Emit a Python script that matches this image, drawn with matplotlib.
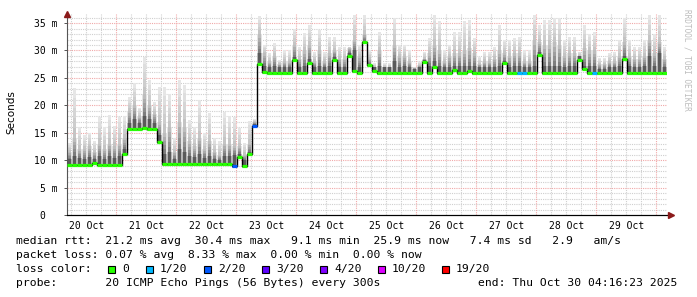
import matplotlib
matplotlib.use("Agg")
import matplotlib.pyplot as plt
from matplotlib.patches import Rectangle
from matplotlib.colors import to_rgb

# ---------------- data (2-hour bins starting Mon 20 Oct 04:16) ----------------
start_hour = 4 + 16.38 / 60.0   # hours since 20 Oct 00:00
bin_hours = 2.0

median_ms = [9.2, 9.2, 9.2, 9.2, 9.2, 9.5, 9.2, 9.2, 9.2, 9.2,
             9.2, 11.1, 15.6, 15.6, 15.7, 15.8, 15.7, 15.6, 13.3, 9.3,
             9.3, 9.3, 9.3, 9.3, 9.3, 9.3, 9.3, 9.3, 9.3, 9.3,
             9.3, 9.3, 9.3, 9.0, 10.6, 9.0, 11.2, 16.2, 27.6, 26.0,
             25.9, 25.9, 25.9, 25.9, 25.9, 28.3, 25.9, 25.9, 27.7, 25.9,
             25.9, 25.9, 25.9, 28.3, 25.9, 25.9, 29.0, 26.2, 25.9, 31.6,
             27.4, 26.3, 25.9, 25.9, 25.9, 25.9, 25.9, 25.9, 25.9, 25.9,
             25.9, 27.9, 25.9, 26.9, 25.9, 25.9, 25.9, 26.5, 25.9, 25.9,
             26.3, 25.9, 25.9, 25.9, 25.9, 25.9, 25.9, 27.7, 25.9, 25.9,
             25.9, 25.9, 25.9, 25.9, 29.2, 25.9, 25.9, 25.9, 25.9, 25.9,
             25.9, 25.9, 28.3, 26.7, 25.9, 25.9, 25.9, 25.9, 25.9, 25.9,
             25.9, 28.5, 25.9, 25.9, 25.9, 25.9, 25.9, 25.9, 25.9, 25.9]

loss_of_20 = [0] * 33 + [2, 0, 0, 0, 2] + [0] * 52 + [1, 1] + [0] * 13 + [1] + [0] * 14

smoke_max = [13.1, 23.1, 16.1, 14.5, 15.0, 13.5, 17.9, 16.0, 18.3, 16.2,
             17.9, 18.0, 21.5, 24.0, 19.6, 28.9, 24.6, 20.6, 23.4, 23.4,
             22.0, 14.0, 24.6, 23.7, 17.3, 16.0, 21.0, 15.0, 18.6, 14.0,
             13.5, 18.8, 18.0, 17.8, 15.9, 13.2, 17.2, 17.5, 36.3, 31.0,
             29.5, 31.3, 28.3, 30.0, 30.0, 34.0, 30.7, 33.1, 34.6, 29.8,
             33.7, 29.8, 32.5, 32.5, 30.7, 30.7, 30.7, 36.5, 31.0, 36.5,
             30.0, 27.7, 33.4, 27.7, 27.7, 35.9, 31.0, 31.0, 30.0, 27.0,
             27.9, 29.8, 32.2, 36.5, 35.4, 30.0, 31.0, 33.3, 33.3, 35.4,
             35.5, 32.2, 28.8, 29.8, 29.8, 30.7, 34.6, 32.0, 32.0, 32.2,
             32.5, 30.0, 30.0, 36.5, 34.6, 35.5, 35.5, 35.9, 35.9, 32.0,
             32.5, 32.5, 29.8, 34.6, 33.0, 33.4, 28.6, 28.6, 29.5, 29.8,
             32.0, 35.9, 32.0, 30.7, 30.7, 32.0, 36.5, 33.0, 36.5, 30.7]

smoke_upper = [11.5, 14.0, 12.0, 12.0, 12.5, 11.5, 13.0, 12.0, 13.0, 12.5,
               13.0, 14.0, 19.0, 20.0, 18.0, 22.0, 20.0, 18.5, 17.0, 15.0,
               16.0, 11.5, 17.0, 16.0, 13.5, 12.5, 14.0, 12.0, 13.5, 11.5,
               11.0, 13.0, 13.0, 12.5, 12.5, 11.0, 13.0, 17.0, 33.0, 29.5,
               28.0, 29.0, 27.5, 28.0, 28.0, 31.0, 28.5, 30.0, 31.0, 28.0,
               30.0, 28.0, 29.5, 30.0, 28.5, 28.5, 30.5, 32.0, 29.0, 33.0,
               28.5, 27.0, 30.0, 27.0, 27.0, 31.0, 29.0, 29.0, 28.0, 26.8,
               27.3, 28.5, 29.5, 31.0, 30.0, 28.0, 29.0, 29.5, 29.5, 30.0,
               30.5, 29.5, 27.5, 28.0, 28.0, 28.5, 30.0, 29.5, 29.0, 29.5,
               29.5, 28.0, 28.0, 32.0, 31.5, 31.0, 31.0, 31.5, 31.0, 29.0,
               29.5, 29.5, 29.0, 30.5, 30.0, 30.0, 27.5, 27.5, 28.0, 28.0,
               29.0, 31.5, 29.0, 28.5, 28.5, 29.0, 32.0, 29.5, 31.5, 28.5]

smoke_core = [10.2, 10.8, 10.4, 10.3, 10.6, 10.2, 10.8, 10.3, 10.8, 10.4,
              10.8, 12.0, 16.8, 17.5, 16.8, 18.0, 17.5, 16.8, 14.5, 11.2,
              11.5, 10.2, 12.0, 11.5, 10.8, 10.6, 11.2, 10.4, 10.8, 10.2,
              10.1, 10.8, 10.8, 11.0, 11.2, 10.1, 11.5, 16.6, 29.5, 27.2,
              26.9, 27.2, 26.9, 26.9, 26.9, 28.8, 26.9, 27.2, 28.5, 26.9,
              27.2, 26.9, 27.2, 28.8, 26.9, 26.9, 29.5, 30.0, 26.9, 31.8,
              27.5, 26.9, 27.2, 26.9, 26.9, 28.0, 26.9, 27.2, 26.9, 26.6,
              26.9, 28.2, 27.2, 28.0, 27.2, 26.9, 26.9, 27.2, 27.2, 27.2,
              27.2, 27.2, 26.9, 26.9, 26.9, 26.9, 27.2, 28.0, 26.9, 27.2,
              27.2, 26.9, 26.9, 27.2, 29.8, 27.2, 27.2, 27.2, 27.2, 26.9,
              27.2, 27.2, 29.0, 27.2, 27.2, 27.2, 26.6, 26.6, 26.9, 26.9,
              27.2, 29.0, 27.2, 26.9, 26.9, 27.2, 29.0, 27.2, 29.5, 26.9]

day_labels = ["20 Oct", "21 Oct", "22 Oct", "23 Oct", "24 Oct",
              "25 Oct", "26 Oct", "27 Oct", "28 Oct", "29 Oct"]
y_ticks_ms = [0, 5, 10, 15, 20, 25, 30, 35]
y_tick_labels = ["0  ", "5 m", "10 m", "15 m", "20 m", "25 m", "30 m", "35 m"]

loss_colors = {0: "#26ff00", 1: "#00b8ff", 2: "#0059ff", 3: "#5e00ff",
               4: "#7e00ff", 10: "#dd00ff", 19: "#ff0000"}
legend_entries = ["0", "1/20", "2/20", "3/20", "4/20", "10/20", "19/20"]
legend_keys = [0, 1, 2, 3, 4, 10, 19]

# ---------------- figure ----------------
W, H = 697, 297
fig = plt.figure(figsize=(W / 100, H / 100), dpi=100)
fig.patch.set_facecolor("white")
ax = fig.add_axes([67 / W, 82 / H, 600 / W, 201 / H])
ax.set_facecolor("white")

n = len(median_ms)
x_end = start_hour + bin_hours * n
ax.set_xlim(start_hour, x_end)
ax.set_ylim(0, 36.65)

# grid
for hx in range(0, 264, 6):
    if start_hour < hx < x_end:
        if hx % 24 == 0:
            ax.axvline(hx, color="#f0a8a8", lw=0.8, ls=(0, (1, 1)), zorder=0.5)
        else:
            ax.axvline(hx, color="#cfcfcf", lw=0.8, ls=(0, (1, 1)), zorder=0.4)
for yv in range(1, 37):
    if yv % 5 == 0:
        ax.axhline(yv, color="#f0a8a8", lw=0.8, ls=(0, (1, 1)), zorder=0.5)
    else:
        ax.axhline(yv, color="#cfcfcf", lw=0.8, ls=(0, (1, 1)), zorder=0.4)

# smoke
lefts = [start_hour + bin_hours * i for i in range(n)]
bottoms = [m - 0.35 for m in median_ms]
narrow = bin_hours * 0.62
nleft = [l + (bin_hours - narrow) / 2 for l in lefts]


def mix(c1, c2, t):
    a, b = to_rgb(c1), to_rgb(c2)
    return tuple(a[i] + (b[i] - a[i]) * t for i in range(3))


bar_kw = dict(align="edge", lw=0, antialiased=False)
# full-width light haze up to the upper quantile
ax.bar(lefts, [u - b for u, b in zip(smoke_upper, bottoms)], bottom=bottoms,
       width=bin_hours, color="#e3e3e3", zorder=0.9, **bar_kw)
# full-width dense band
ax.bar(lefts, [c - b for c, b in zip(smoke_core, bottoms)], bottom=bottoms,
       width=bin_hours, color="#b4b4b4", zorder=1, **bar_kw)
# narrow spike: gradient upper -> max (light)
steps = 5
for k in range(steps):
    lo = [u + (t - u) * k / steps for u, t in zip(smoke_upper, smoke_max)]
    hi = [u + (t - u) * (k + 1) / steps for u, t in zip(smoke_upper, smoke_max)]
    ax.bar(nleft, [h - l for h, l in zip(hi, lo)], bottom=lo, width=narrow,
           color=mix("#c4c4c4", "#e6e6e6", k / (steps - 1)),
           zorder=1.1, **bar_kw)
# narrow spike: gradient core -> upper (mid)
for k in range(steps):
    lo = [c + (u - c) * k / steps for c, u in zip(smoke_core, smoke_upper)]
    hi = [c + (u - c) * (k + 1) / steps for c, u in zip(smoke_core, smoke_upper)]
    ax.bar(nleft, [h - l for h, l in zip(hi, lo)], bottom=lo, width=narrow,
           color=mix("#7e7e7e", "#bdbdbd", k / (steps - 1)),
           zorder=1.1, **bar_kw)
# narrow spike: dark core
ax.bar(nleft, [c - b for c, b in zip(smoke_core, bottoms)], bottom=bottoms,
       width=narrow, color="#5a5a5a", zorder=1.2, **bar_kw)

# median line
edges = lefts + [x_end]
ax.step(edges, median_ms + [median_ms[-1]], where="post", color="black",
        lw=1.0, zorder=2)
for l, m, ls_ in zip(lefts, median_ms, loss_of_20):
    ax.hlines(m, l, l + bin_hours, color=loss_colors[ls_], lw=2.3, zorder=3)

# axes styling
for s in ["top", "right"]:
    ax.spines[s].set_visible(False)
ax.spines["left"].set_color("#555555")
ax.spines["bottom"].set_color("black")
ax.spines["left"].set_linewidth(0.8)
ax.spines["bottom"].set_linewidth(0.8)
ax.plot([0], [1.0], marker="^", color="#8b1a1a", markersize=4,
        transform=ax.transAxes, clip_on=False, zorder=5)
ax.plot([1.006], [0], marker=">", color="#8b1a1a", markersize=4,
        transform=ax.transAxes, clip_on=False, zorder=5)
ax.plot([0, 1.006], [0, 0], color="black", lw=0.8, transform=ax.transAxes,
        clip_on=False, zorder=4)

mono = "DejaVu Sans Mono"
ax.set_yticks(y_ticks_ms)
ax.set_yticklabels(y_tick_labels, fontfamily=mono, fontsize=7)
ax.set_xticks([12 + 24 * k for k in range(len(day_labels))])
ax.set_xticklabels(day_labels, fontfamily=mono, fontsize=7)
ax.tick_params(axis="y", length=2.5, width=0.7, color="#555555", pad=4)
ax.tick_params(axis="x", length=0, pad=4)


def fx(px):
    return px / W


def fy(py):
    return 1 - py / H


fig.text(fx(11), fy(112), "Seconds", rotation=90, fontsize=7.5,
         ha="center", va="center", color="black")
fig.text(fx(687), fy(60), "RRDTOOL / TOBI OETIKER", rotation=270,
         fontsize=5.6, family=mono, ha="center", va="center", color="#bdbdbd")

fs = 8.2
fig.text(fx(16), fy(241), "median rtt:  21.2 ms avg  30.4 ms max   9.1 ms min  25.9 ms now   7.4 ms sd   2.9   am/s",
         family=mono, fontsize=fs, va="center", ha="left")
fig.text(fx(16), fy(255), "packet loss: 0.07 % avg  8.33 % max  0.00 % min  0.00 % now",
         family=mono, fontsize=fs, va="center", ha="left")
fig.text(fx(16), fy(269), "loss color:", family=mono, fontsize=fs,
         va="center", ha="left")
box_x = [108, 146, 204, 262, 320, 378, 442]
for bx, lab, key in zip(box_x, legend_entries, legend_keys):
    fig.patches.append(Rectangle((fx(bx), fy(273)), 7 / W, 7 / H,
                                 transform=fig.transFigure,
                                 facecolor=loss_colors[key],
                                 edgecolor="black", lw=0.8))
    fig.text(fx(bx + 14), fy(269), lab, family=mono, fontsize=fs,
             va="center", ha="left")
fig.text(fx(16), fy(283), "probe:       20 ICMP Echo Pings (56 Bytes) every 300s",
         family=mono, fontsize=fs, va="center", ha="left")
fig.text(fx(478), fy(283), "end: Thu Oct 30 04:16:23 2025",
         family=mono, fontsize=fs, va="center", ha="left")

fig.savefig("out.png", dpi=100, facecolor="white")
